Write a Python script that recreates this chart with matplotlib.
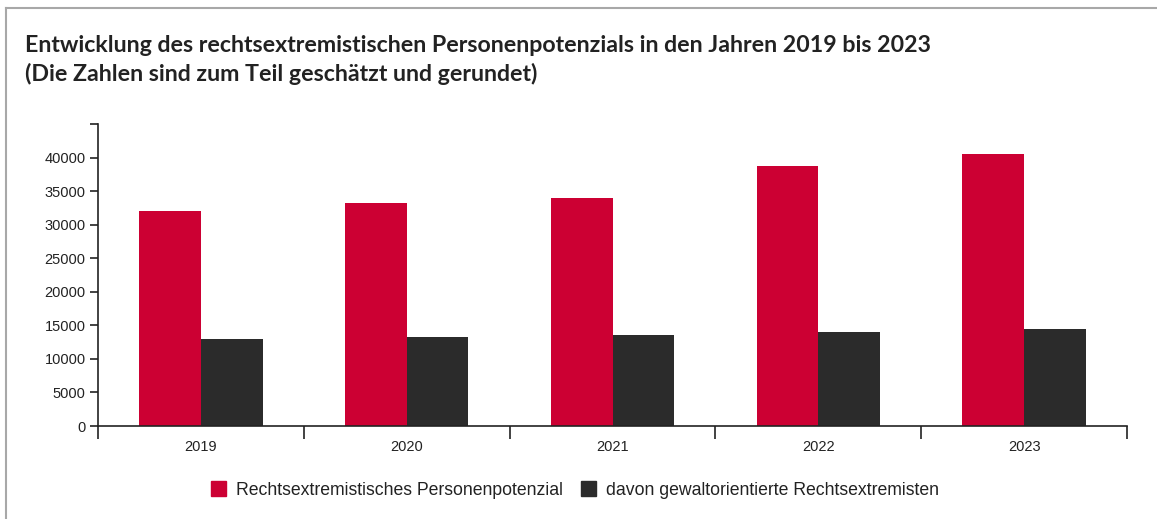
import matplotlib
matplotlib.use("Agg")
import matplotlib.pyplot as plt
from matplotlib.patches import Patch
from matplotlib.lines import Line2D
import numpy as np

years = ["2019", "2020", "2021", "2022", "2023"]
potenzial = [32080, 33300, 33900, 38800, 40600]
gewalt = [13000, 13300, 13500, 14000, 14500]
series_names = ["Rechtsextremistisches Personenpotenzial",
                "davon gewaltorientierte Rechtsextremisten"]
yticks = [0, 5000, 10000, 15000, 20000, 25000, 30000, 35000, 40000]

RED = "#cc0033"
DARK = "#2b2b2b"

W, H = 1157, 519
fig = plt.figure(figsize=(W / 100, H / 100), dpi=100)

def px(x, y):
    return x / W, 1 - y / H

# frame lines
fig.add_artist(Line2D([6 / W, 1], [1 - 8 / H, 1 - 8 / H], color="#a8a8a8", lw=1.5))
fig.add_artist(Line2D([6 / W, 6 / W], [0, 1 - 8 / H], color="#a8a8a8", lw=1.5))

fig.text(*px(25, 52), "Entwicklung des rechtsextremistischen Personenpotenzials in den Jahren 2019 bis 2023",
         fontsize=16.65, fontweight="bold", family="Lato", color="#222222", va="baseline")
fig.text(*px(25, 81), "(Die Zahlen sind zum Teil geschätzt und gerundet)",
         fontsize=16.65, fontweight="bold", family="Lato", color="#222222", va="baseline")

left, right, bottom, top = 98, 1127, 426, 124
ax = fig.add_axes([left / W, 1 - bottom / H, (right - left) / W, (bottom - top) / H])

x = np.arange(len(years))
w = 0.30
ax.bar(x - w / 2, potenzial, w, color=RED, label=series_names[0])
ax.bar(x + w / 2, gewalt, w, color=DARK, label=series_names[1])

ax.set_xlim(-0.5, len(years) - 0.5)
ax.set_ylim(0, 45000)
for s in ["top", "right"]:
    ax.spines[s].set_visible(False)
for s in ["left", "bottom"]:
    ax.spines[s].set_color("#222222")
    ax.spines[s].set_linewidth(1.2)

ax.set_yticks(yticks + [45000])
ax.set_yticklabels([str(v) for v in yticks] + [""])
ax.tick_params(axis="y", length=6, width=1.2, color="#222222", labelsize=10.5,
               labelcolor="#222222", pad=3)
ax.set_xticks(x)
ax.set_xticklabels(years)
ax.tick_params(axis="x", which="major", length=0, labelsize=10.5, labelcolor="#222222", pad=10)
ax.set_xticks(np.arange(-0.5, len(years)), minor=True)
ax.tick_params(axis="x", which="minor", length=9, width=1.2, color="#222222")
for lab in ax.get_xticklabels() + ax.get_yticklabels():
    lab.set_family("Liberation Sans")

handles = [Patch(color=RED), Patch(color=DARK)]
leg = fig.legend(handles, series_names, loc="center", bbox_to_anchor=px(575, 490),
                 ncol=2, frameon=False, handlelength=0.85, handleheight=0.9,
                 handletextpad=0.6, columnspacing=1.0,
                 prop={"family": "Liberation Sans", "size": 12.7})
for t in leg.get_texts():
    t.set_color("#222222")

fig.savefig("out.png", dpi=100, facecolor="white")
